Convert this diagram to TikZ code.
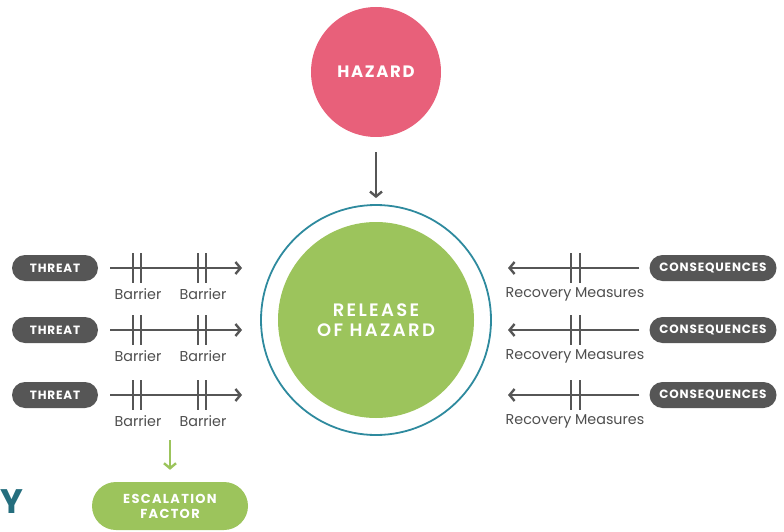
\documentclass[tikz,border=0pt]{standalone}
\usepackage{fontspec}
\setmainfont{Poppins}
\newfontfamily\capsfont[LetterSpace=7]{Poppins Bold}
\newfontfamily\titlefont[LetterSpace=10]{Poppins Bold}
\newfontfamily\releasefont[LetterSpace=13]{Poppins SemiBold}
\usetikzlibrary{arrows.meta,positioning}

\definecolor{hazardred}{HTML}{E8607A}
\definecolor{releasegreen}{HTML}{9CC45C}
\definecolor{ringteal}{HTML}{2E8A9E}
\definecolor{pillgray}{HTML}{565656}

\begin{document}
\begin{tikzpicture}[x=1pt, y=-1pt,
	pill/.style={fill=pillgray, text=white, rounded corners=13pt, minimum height=26pt, inner sep=0pt, font=\capsfont\fontsize{12}{13}\selectfont},
	link/.style={draw=pillgray, line width=2.4pt, -{Straight Barb[length=5pt,width=12pt,line width=2.4pt]}},
	barline/.style={draw=pillgray, line width=2.4pt},
	marklabel/.style={text=pillgray!90!black, font=\fontsize{14.3}{16}\selectfont, inner sep=0pt}]
	\useasboundingbox (0,0) rectangle (784,532);
	
	\node[circle, fill=hazardred, text=white, minimum size=130pt, font=\titlefont\fontsize{16.5}{18}\selectfont] (hazard) at (376,72) {HAZARD};
	\node[circle, fill=releasegreen, text=white, minimum size=196pt, align=center, font=\releasefont\fontsize{18}{20}\selectfont] (release) at (376,320) {RELEASE\\OF HAZARD};
	\node[circle, draw=ringteal, line width=1.8pt, minimum size=230pt] (ring) at (release) {};
	\draw[link, shorten <=15pt, shorten >=6pt] (hazard) -- (ring);
	
	% threats with barriers
	\foreach \y [count=\i] in {268,330,395} {
		\node[pill, minimum width=86pt] (threat\i) at (55,\y) {THREAT};
		\coordinate (tend\i) at (242,\y);
		\draw[link] ([xshift=12pt]threat\i.east) -- (tend\i);
		\foreach \bx in {133,141,198,206}
			\draw[barline] (\bx,\y-15) -- (\bx,\y+15);
		\node[marklabel] (barA\i) at (138,\y+26) {Barrier};
		\node[marklabel] (barB\i) at (203,\y+26) {Barrier};
	}
	
	% consequences with recovery measures
	\foreach \y [count=\i] in {268,330,395} {
		\node[pill, minimum width=127pt] (cons\i) at (713,\y) {CONSEQUENCES};
		\coordinate (cend\i) at (508,\y);
		\draw[link] ([xshift=-10pt]cons\i.west) -- (cend\i);
		\foreach \bx in {571,580}
			\draw[barline] (\bx,\y-15) -- (\bx,\y+15);
		\node[marklabel] (recov\i) at (575,\y+26) {Recovery Measures};
	}
	
	\node[pill, fill=releasegreen, minimum width=156pt, minimum height=48pt, rounded corners=24pt, align=center, font=\titlefont\fontsize{13}{15}\selectfont] (escal) at (170,506) {ESCALATION\\FACTOR};
	\coordinate (escstart) at (170,440);
	\draw[link, draw=releasegreen, line width=2pt, shorten >=12pt] (escstart) -- (escal);
	
	\node[text=ringteal!80!black, anchor=west, inner sep=0pt, font=\capsfont\fontsize{34}{34}\selectfont] (titley) at (0,502) {Y};
\end{tikzpicture}
\end{document}
